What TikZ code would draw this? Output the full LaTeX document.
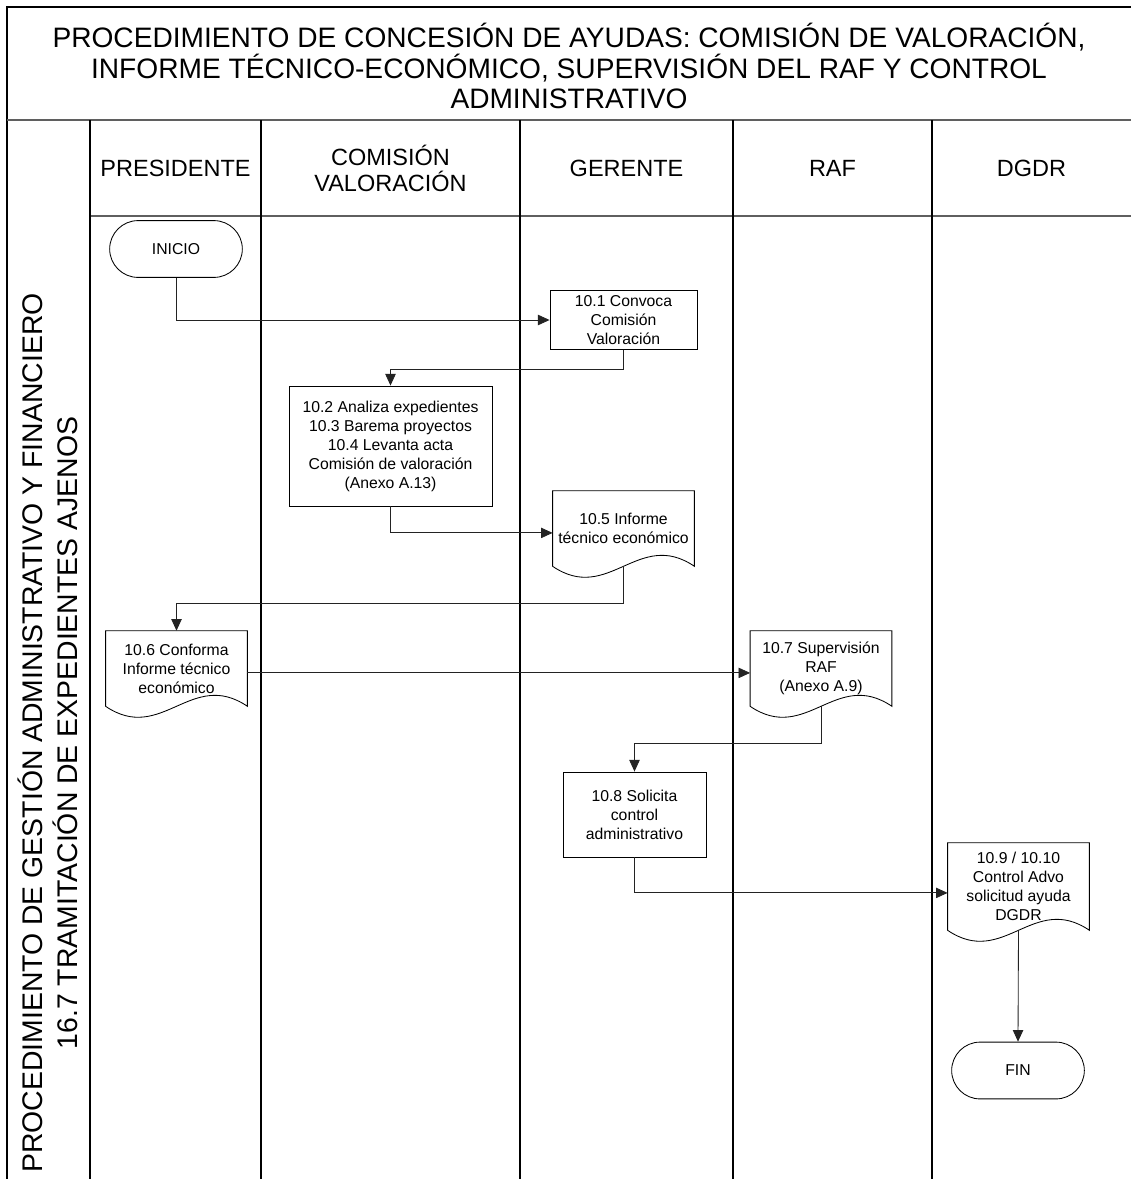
\documentclass[tikz,border=0pt]{standalone}
\usepackage{fontspec}
\setmainfont{Liberation Sans}
\usetikzlibrary{arrows.meta,shapes.misc,calc}
\definecolor{SepGray}{RGB}{95,95,95}
\definecolor{FlowGray}{RGB}{35,35,35}
\newcommand{\docframe}[1]{\draw[docline] (#1.north west) -- (#1.north east) -- (#1.south east) .. controls +(-1.4cm,0.95cm) and +(1.4cm,-0.95cm) .. (#1.south west) -- cycle;}

\begin{document}
\begin{tikzpicture}[x=0.025cm, y=-0.025cm,
    lane/.style={line width=0.9pt, draw=black},
    sep/.style={line width=1.3pt, draw=SepGray},
    titletext/.style={align=center, font=\fontsize{20}{21.5}\selectfont},
    sidetext/.style={align=center, rotate=90, font=\fontsize{20.2}{24.8}\selectfont},
    lanehead/.style={align=center, font=\fontsize{16.7}{18.5}\selectfont},
    term/.style={rounded rectangle, draw=black, line width=0.6pt, minimum width=3.55cm, minimum height=1.42cm, font=\fontsize{11.2}{13.5}\selectfont},
    procbox/.style={rectangle, draw=black, line width=0.6pt, align=center, inner sep=1pt, font=\fontsize{11.2}{13.5}\selectfont},
    docbox/.style={rectangle, align=center, inner sep=1pt, minimum width=3.53cm, font=\fontsize{11.2}{13.5}\selectfont},
    docline/.style={draw=black, line width=0.6pt},
    flow/.style={-{Triangle[length=2.9mm,width=2.6mm]}, line width=0.6pt, draw=FlowGray}
  ]
    \useasboundingbox (0,0) rectangle (1131,1179);
    \draw[lane, line width=1.3pt] (1131,7) -- (7,7) -- (7,1179);
    \draw[sep] (7,120) -- (1131,120);
    \draw[sep, line width=1pt] (90,216) -- (1131,216);
    \foreach \x in {90,261,520,733,932} {\draw[lane] (\x,120) -- (\x,1179);}
    \node[titletext] (title) at (569,66) {PROCEDIMIENTO DE CONCESIÓN DE AYUDAS: COMISIÓN DE VALORACIÓN,\\INFORME TÉCNICO-ECONÓMICO, SUPERVISIÓN DEL RAF Y CONTROL\\ADMINISTRATIVO};
    \node[sidetext] (side) at (48,733) {PROCEDIMIENTO DE GESTIÓN ADMINISTRATIVO Y FINANCIERO\\16.7 TRAMITACIÓN DE EXPEDIENTES AJENOS};
    \node[lanehead] (hpres) at (175.5,168) {PRESIDENTE};
    \node[lanehead] (hcom) at (390.5,168) {COMISIÓN\\VALORACIÓN};
    \node[lanehead] (hger) at (626.5,168) {GERENTE};
    \node[lanehead] (hraf) at (832.5,168) {RAF};
    \node[lanehead] (hdgdr) at (1031.5,168) {DGDR};
    \node[term] (inicio) at (176,249) {INICIO};
    \node[procbox, minimum width=3.675cm, minimum height=1.475cm] (c101) at (623.5,320) {10.1 Convoca\\Comisión\\Valoración};
    \node[procbox, minimum width=5.075cm, minimum height=3cm] (c102) at (390.5,446) {10.2 Analiza expedientes\\10.3 Barema proyectos\\10.4 Levanta acta\\Comisión de valoración\\(Anexo A.13)};
    \node[docbox, minimum height=1.875cm] (c105) at (623.5,528.5) {10.5 Informe\\técnico económico};
    \node[docbox, minimum height=1.875cm] (c106) at (176.5,668.5) {10.6 Conforma\\Informe técnico\\económico};
    \node[docbox, minimum height=1.875cm] (c107) at (821,668.5) {10.7 Supervisión\\RAF\\(Anexo A.9)};
    \node[procbox, minimum width=3.575cm, minimum height=2.125cm] (c108) at (634.5,814.5) {10.8 Solicita\\control\\administrativo};
    \node[docbox, minimum height=2.175cm] (c109) at (1018.5,886.5) {10.9 / 10.10\\Control Advo\\solicitud ayuda\\DGDR};
    \node[term] (fin) at (1018,1070.5) {FIN};
    \foreach \d in {c105,c106,c107,c109} {\docframe{\d}}
    \draw[flow] (inicio.south) |- (c101.west);
    \draw[flow] (c101.south) -- ++(0,19) -| (c102.north);
    \draw[flow] (c102.south) |- ([yshift=-0.11cm]c105.west);
    \draw[flow] (c105.south) -- ++(0,37) -| (c106.north);
    \draw[flow] ([yshift=-0.11cm]c106.east) -- ([yshift=-0.11cm]c107.west);
    \draw[flow] (c107.south) -- ++(0,37) -| (c108.north);
    \draw[flow] (c108.south) |- ([yshift=-0.16cm]c109.west);
    \draw[flow] (c109.south) -- (fin.north);
  \end{tikzpicture}
\end{document}
